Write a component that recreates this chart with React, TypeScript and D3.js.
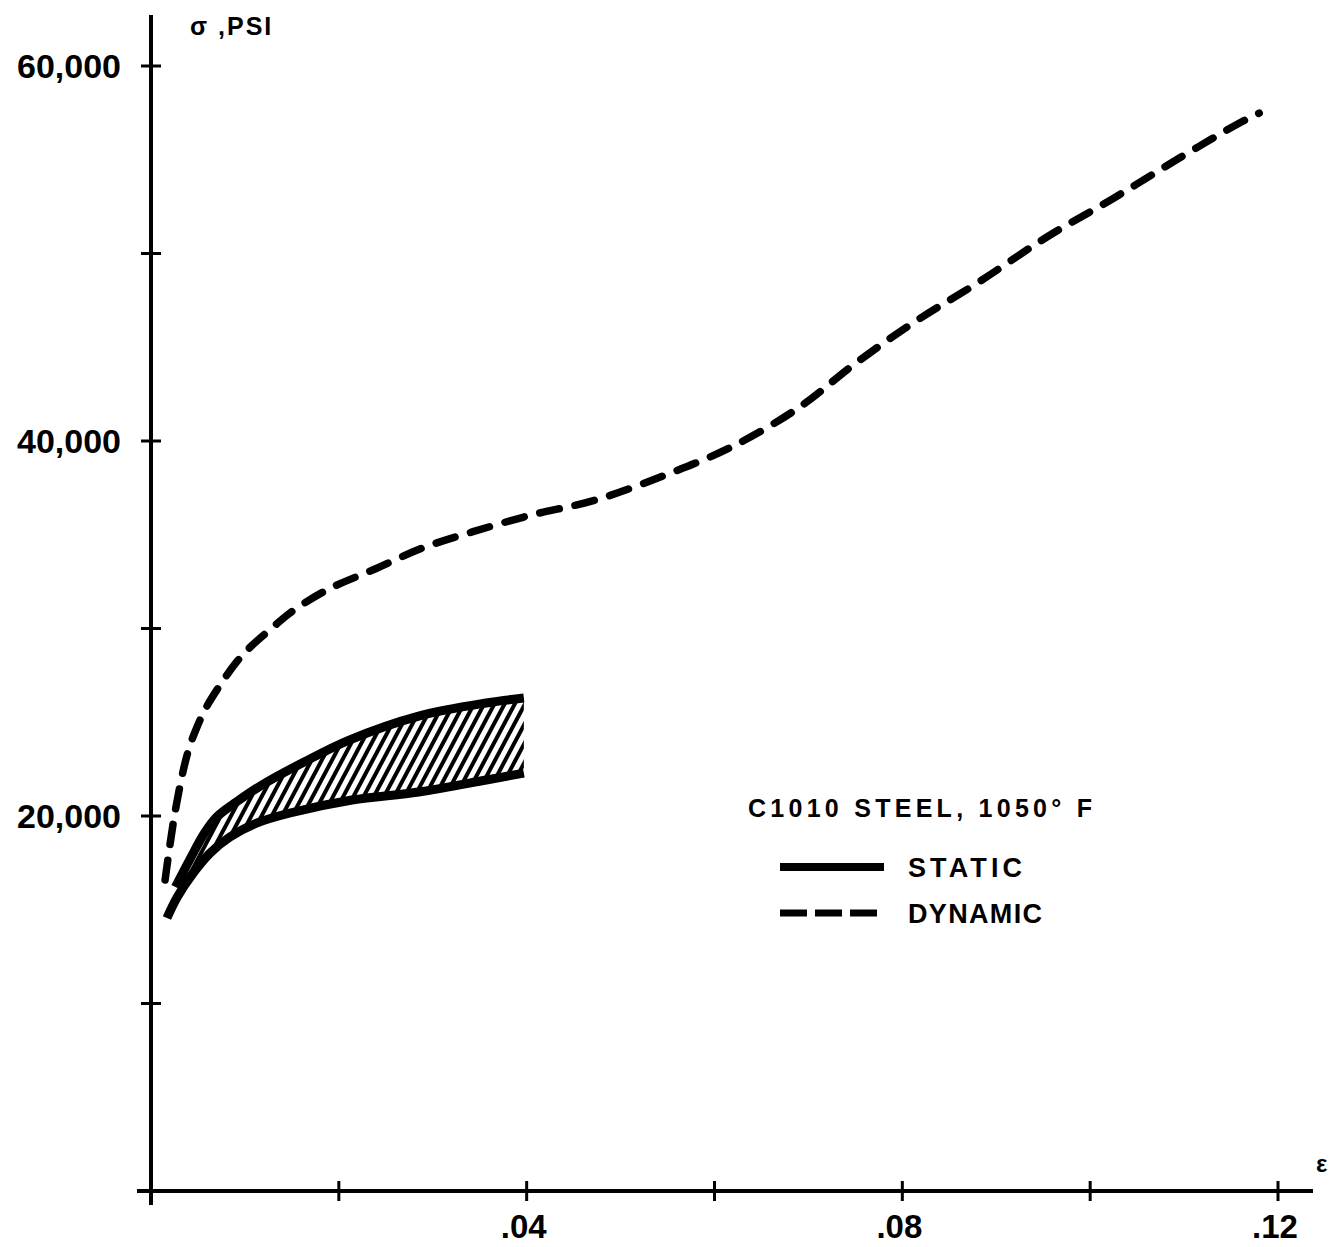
import React, { useEffect, useRef } from 'react';
import * as d3 from 'd3';

// strain values (in/in) and stresses (psi)
const dynamicStrain = [0.0015, 0.0026, 0.0039, 0.0049, 0.0059, 0.0075, 0.0091, 0.0108, 0.0129, 0.0148, 0.0187, 0.0236, 0.0289, 0.0342, 0.0405, 0.0473, 0.0548, 0.0618, 0.0689, 0.0749, 0.0813, 0.088, 0.0954, 0.1025, 0.1095, 0.1159, 0.118];
const dynamicStress = [16590, 20320, 23360, 24750, 25810, 27090, 28210, 29120, 30030, 30830, 32050, 33120, 34290, 35150, 36050, 36850, 38190, 39680, 41750, 44100, 46350, 48430, 50880, 52950, 55090, 56960, 57490];

const staticUpperStrain = [0.0026, 0.0041, 0.0057, 0.007, 0.0091, 0.0118, 0.0163, 0.0211, 0.0285, 0.0357, 0.0397];
const staticUpperStress = [16210, 17650, 19090, 19950, 20750, 21650, 22880, 24050, 25330, 26030, 26290];
const staticLowerStrain = [0.0017, 0.0028, 0.0045, 0.0063, 0.0084, 0.0113, 0.0148, 0.0214, 0.0285, 0.0357, 0.0397];
const staticLowerStress = [14560, 15680, 16960, 18030, 18880, 19630, 20160, 20850, 21280, 21920, 22290];

const yTickValues = [10000, 20000, 30000, 40000, 50000, 60000];
const yTickLabels: Record<number, string> = { 20000: '20,000', 40000: '40,000', 60000: '60,000' };
const xTickValues = [0.02, 0.04, 0.06, 0.08, 0.1, 0.12];
const xTickLabels: Record<number, string> = { 0.04: '.04', 0.08: '.08', 0.12: '.12' };

const legendTitle = 'C1010 STEEL, 1050° F';
const legendItems = [
  { label: 'STATIC', dash: null, width: 114 },
  { label: 'DYNAMIC', dash: '27 8', width: 134 },
];

const FONT = '"Liberation Sans", Arial, sans-serif';

const App = () => {
  const ref = useRef<SVGSVGElement>(null);

  useEffect(() => {
    if (!ref.current) return;
    const width = 1342;
    const height = 1247;

    const svg = d3.select(ref.current);
    svg.selectAll('*').remove();
    svg.attr('width', width).attr('height', height);

    const x = d3.scaleLinear().domain([0, 0.12]).range([151, 1278]);
    const y = d3.scaleLinear().domain([0, 60000]).range([1191, 66]);

    // hatch pattern for the static band
    const defs = svg.append('defs');
    const pat = defs.append('pattern')
      .attr('id', 'hatch')
      .attr('patternUnits', 'userSpaceOnUse')
      .attr('width', 9)
      .attr('height', 9)
      .attr('patternTransform', 'rotate(28)');
    pat.append('rect').attr('width', 9).attr('height', 9).attr('fill', '#fff');
    pat.append('line')
      .attr('x1', 2).attr('y1', 0).attr('x2', 2).attr('y2', 9)
      .attr('stroke', '#000').attr('stroke-width', 4);

    // axes
    svg.append('line')
      .attr('x1', x(0)).attr('x2', x(0))
      .attr('y1', 15).attr('y2', 1205)
      .attr('stroke', '#000').attr('stroke-width', 4);
    svg.append('line')
      .attr('x1', 137).attr('x2', 1313)
      .attr('y1', y(0)).attr('y2', y(0))
      .attr('stroke', '#000').attr('stroke-width', 4);

    svg.selectAll('.ytick')
      .data(yTickValues)
      .enter().append('line')
      .attr('x1', x(0) - 10).attr('x2', x(0) + 10)
      .attr('y1', d => y(d)).attr('y2', d => y(d))
      .attr('stroke', '#000').attr('stroke-width', 3);

    svg.selectAll('.xtick')
      .data(xTickValues)
      .enter().append('line')
      .attr('x1', d => x(d)).attr('x2', d => x(d))
      .attr('y1', y(0) - 10).attr('y2', y(0) + 10)
      .attr('stroke', '#000').attr('stroke-width', 3);

    svg.selectAll('.ylabel')
      .data(yTickValues.filter(d => yTickLabels[d]))
      .enter().append('text')
      .attr('x', 121)
      .attr('y', d => y(d) + 12)
      .attr('text-anchor', 'end')
      .attr('font-family', FONT)
      .attr('font-weight', 'bold')
      .attr('font-size', 34)
      .text(d => yTickLabels[d]);

    svg.selectAll('.xlabel')
      .data(xTickValues.filter(d => xTickLabels[d]))
      .enter().append('text')
      .attr('x', d => x(d) - 3)
      .attr('y', 1238)
      .attr('text-anchor', 'middle')
      .attr('font-family', FONT)
      .attr('font-weight', 'bold')
      .attr('font-size', 33)
      .text(d => xTickLabels[d]);

    // axis titles
    svg.append('text')
      .attr('x', 190).attr('y', 35)
      .attr('font-family', FONT).attr('font-weight', 'bold')
      .attr('font-size', 25)
      .attr('letter-spacing', 2)
      .text('σ ,PSI');
    svg.append('text')
      .attr('x', 1316).attr('y', 1172)
      .attr('font-family', FONT).attr('font-weight', 'bold')
      .attr('font-size', 24)
      .text('ε');

    // static band
    const upper = staticUpperStrain.map((s, i) => [x(s), y(staticUpperStress[i])] as [number, number]);
    const lower = staticLowerStrain.map((s, i) => [x(s), y(staticLowerStress[i])] as [number, number]);
    const line = d3.line().curve(d3.curveCatmullRom.alpha(0.5));
    const bandPath = line(upper) + 'L' + (line(lower.slice().reverse()) || '').slice(1) + 'Z';

    svg.append('path')
      .attr('d', bandPath)
      .attr('fill', 'url(#hatch)');
    [upper, lower].forEach(pts => {
      svg.append('path')
        .attr('d', line(pts))
        .attr('fill', 'none')
        .attr('stroke', '#000')
        .attr('stroke-width', 9)
        .attr('stroke-linecap', 'butt');
    });

    // dynamic curve
    const dyn = dynamicStrain.map((s, i) => [x(s), y(dynamicStress[i])] as [number, number]);
    svg.append('path')
      .attr('d', line(dyn))
      .attr('fill', 'none')
      .attr('stroke', '#000')
      .attr('stroke-width', 7.5)
      .attr('stroke-dasharray', '20 16')
      .attr('stroke-linecap', 'round');

    // legend
    svg.append('text')
      .attr('x', 748).attr('y', 817)
      .attr('font-family', FONT).attr('font-weight', 'bold')
      .attr('font-size', 25)
      .attr('textLength', 344)
      .attr('lengthAdjust', 'spacing')
      .text(legendTitle);

    const lg = svg.append('g');
    legendItems.forEach((item, i) => {
      const ly = 867 + i * 46;
      lg.append('line')
        .attr('x1', 780).attr('x2', 884)
        .attr('y1', ly).attr('y2', ly)
        .attr('stroke', '#000')
        .attr('stroke-width', i === 0 ? 8 : 7)
        .attr('stroke-dasharray', item.dash);
      lg.append('text')
        .attr('x', 908).attr('y', ly + 10)
        .attr('font-family', FONT).attr('font-weight', 'bold')
        .attr('font-size', 27)
        .attr('textLength', item.width)
        .attr('lengthAdjust', 'spacing')
        .text(item.label);
    });
  }, []);

  return (
    <svg ref={ref} style={{ position: 'absolute', left: 0, top: 0, background: '#fff' }} />
  );
};

export default App;
